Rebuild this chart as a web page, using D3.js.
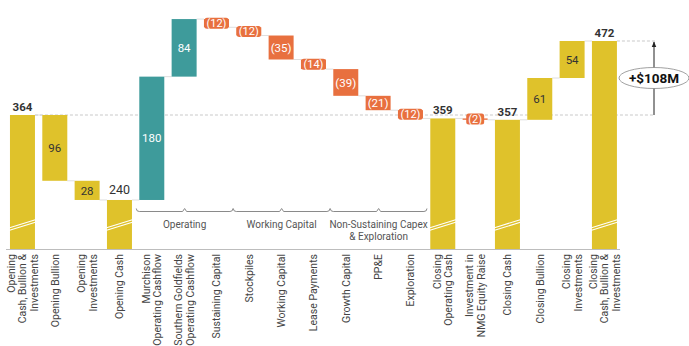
<!DOCTYPE html>
<html>
<head>
<meta charset="utf-8">
<script src="https://cdn.jsdelivr.net/npm/d3@7"></script>
<style>
  body { margin: 0; background: #fff; }
  svg text { font-family: Roboto, "Liberation Sans", sans-serif; }
</style>
</head>
<body>
<div class="waterfall"></div>
<script>
const categories = [
  ["Opening", "Cash, Bullion &", "Investments"],
  ["Opening Bullion"],
  ["Opening", "Investments"],
  ["Opening Cash"],
  ["Murchison", "Operating Cashflow"],
  ["Southern Goldfields", "Operating Cashflow"],
  ["Sustaining Capital"],
  ["Stockpiles"],
  ["Working Capital"],
  ["Lease Payments"],
  ["Growth Capital"],
  ["PP&E"],
  ["Exploration"],
  ["Closing", "Operating Cash"],
  ["Investment in", "NMG Equity Raise"],
  ["Closing Cash"],
  ["Closing Bullion"],
  ["Closing", "Investments"],
  ["Closing", "Cash, Bullion &", "Investments"]
];
const values = [364, -96, -28, 240, 180, 84, -12, -12, -35, -14, -39, -21, -12, 359, -2, 357, 61, 54, 472];
const kinds = ["total", "sub", "sub", "total", "pos", "pos", "neg", "neg", "neg", "neg", "neg", "neg", "neg",
               "total", "neg", "total", "sub", "sub", "total"];
const groups = [
  { label: ["Operating"], from: 4, to: 6 },
  { label: ["Working Capital"], from: 7, to: 9 },
  { label: ["Non-Sustaining Capex", "& Exploration"], from: 10, to: 12 }
];
const axisBase = 167;   // broken axis starts here
const changeLabel = "+$108M";

const width = 689, height = 346;
const colors = { total: "#DFC22B", sub: "#DFC22B", pos: "#3E9B9B", neg: "#E8703F" };

// running totals
let running = 0;
const bars = values.map((v, i) => {
  let y0, y1;
  if (kinds[i] === "total") { y0 = axisBase; y1 = v; running = v; }
  else { y0 = running; y1 = running + v; running = y1; }
  return { i, v, kind: kinds[i], lo: Math.min(y0, y1), hi: Math.max(y0, y1), end: running };
});

const svg = d3.select(".waterfall").append("svg")
  .attr("width", width).attr("height", height);

const x = d3.scaleBand()
  .domain(d3.range(values.length))
  .range([6.3, 620.6])
  .paddingInner(0.227)
  .paddingOuter(0.1135);
const bw = x.bandwidth();

const y = d3.scaleLinear().domain([axisBase, 472]).range([250, 41]);

// dashed reference lines
const refX = 655;
svg.append("line")
  .attr("x1", x(0) + bw).attr("x2", refX)
  .attr("y1", y(values[0])).attr("y2", y(values[0]))
  .attr("stroke", "#bbb").attr("stroke-width", 0.8).attr("stroke-dasharray", "3,2");
svg.append("line")
  .attr("x1", x(18) + bw).attr("x2", refX)
  .attr("y1", y(values[18])).attr("y2", y(values[18]))
  .attr("stroke", "#bbb").attr("stroke-width", 0.8).attr("stroke-dasharray", "3,2");

// connectors
svg.selectAll(".conn")
  .data(bars.slice(0, -1))
  .enter().append("line")
  .attr("class", "conn")
  .attr("x1", d => x(d.i) + bw)
  .attr("x2", d => x(d.i + 1))
  .attr("y1", d => y(d.end)).attr("y2", d => y(d.end))
  .attr("stroke", "#d6d6d6").attr("stroke-width", 0.8);

// bars
svg.selectAll(".bar")
  .data(bars)
  .enter().append("rect")
  .attr("class", "bar")
  .attr("x", d => x(d.i))
  .attr("width", bw)
  .attr("y", d => y(d.hi))
  .attr("height", d => Math.max(1.2, y(d.lo) - y(d.hi)))
  .attr("fill", d => colors[d.kind]);

// axis line
svg.append("line")
  .attr("x1", 6).attr("x2", 620)
  .attr("y1", 249.5).attr("y2", 249.5)
  .attr("stroke", "#bdbdbd").attr("stroke-width", 1);

// break marks on total bars
const breaks = bars.filter(d => d.kind === "total");
breaks.forEach(d => {
  const x0 = x(d.i) - 2, x1 = x(d.i) + bw + 2, yc = 225;
  [-1.3, 1.3].forEach(off => {
    svg.append("line")
      .attr("x1", x0).attr("x2", x1)
      .attr("y1", yc + 4.5 + off).attr("y2", yc - 4.5 + off)
      .attr("stroke", "#fff").attr("stroke-width", 1.1);
  });
});

// value labels
bars.forEach(d => {
  const cx = x(d.i) + bw / 2;
  const h = y(d.lo) - y(d.hi);
  if (d.kind === "total") {
    const plain = d.i === 3;
    const t = svg.append("text")
      .attr("x", cx).attr("y", y(d.hi) - (plain ? 6 : 4))
      .attr("text-anchor", "middle")
      .attr("font-size", plain ? 12.5 : 11.5)
      .attr("font-weight", plain ? 400 : 700)
      .attr("fill", "#333")
      .text(d.v);
    if (plain) {
      const bb = t.node().getBBox();
      svg.insert("rect", () => t.node())
        .attr("x", bb.x - 3).attr("y", bb.y)
        .attr("width", bb.width + 6).attr("height", bb.height)
        .attr("fill", "#fff");
    }
    return;
  }
  const txt = d.kind === "neg" ? `(${-d.v})` : Math.abs(d.v);
  const cy = (y(d.lo) + y(d.hi)) / 2;
  if (d.kind === "neg" && h < 14) {
    const bg = svg.append("rect").attr("fill", colors.neg).attr("rx", 2.5);
    const t = svg.append("text")
      .attr("x", cx).attr("y", cy).attr("dy", "0.36em")
      .attr("text-anchor", "middle")
      .attr("font-size", 11).attr("fill", "#fff")
      .text(txt);
    const bb = t.node().getBBox();
    bg.attr("x", bb.x - 2).attr("y", cy - 5.5)
      .attr("width", bb.width + 4).attr("height", 11);
    return;
  }
  svg.append("text")
    .attr("x", cx).attr("y", cy).attr("dy", "0.36em")
    .attr("text-anchor", "middle")
    .attr("font-size", 11.5)
    .attr("fill", d.kind === "sub" ? "#333" : "#fff")
    .text(txt);
});

// group brackets
const bracketY = 211.5;
groups.forEach(g => {
  const gx0 = x(g.from) - 3, gx1 = x(g.to) + bw + 4, mid = (gx0 + gx1) / 2;
  svg.append("path")
    .attr("d", `M${gx0},${bracketY - 3} Q${gx0},${bracketY} ${gx0 + 3},${bracketY} L${mid - 2},${bracketY} L${mid},${bracketY - 3} L${mid + 2},${bracketY} L${gx1 - 3},${bracketY} Q${gx1},${bracketY} ${gx1},${bracketY - 3}`)
    .attr("fill", "none").attr("stroke", "#8a8a8a").attr("stroke-width", 1);
  g.label.forEach((line, k) => {
    svg.append("text")
      .attr("x", mid).attr("y", 228 + k * 12)
      .attr("text-anchor", "middle")
      .attr("font-size", 10).attr("fill", "#555")
      .text(line);
  });
});

// category labels (rotated)
categories.forEach((lines, i) => {
  const cx = x(i) + bw / 2;
  const n = lines.length;
  lines.forEach((line, k) => {
    const lx = cx + (k - (n - 1) / 2) * 11.3;
    svg.append("text")
      .attr("transform", `translate(${lx + 3.8},254) rotate(-90)`)
      .attr("text-anchor", "end")
      .attr("font-size", 10.5).attr("fill", "#444")
      .text(line);
  });
});

// change arrow + ellipse
svg.append("defs").append("marker")
  .attr("id", "arr").attr("viewBox", "0 0 10 10")
  .attr("refX", 9).attr("refY", 5)
  .attr("markerWidth", 6).attr("markerHeight", 6)
  .attr("orient", "auto")
  .append("path").attr("d", "M0,1 L10,5 L0,9 Z").attr("fill", "#222");
svg.append("line")
  .attr("x1", refX - 1).attr("x2", refX - 1)
  .attr("y1", y(values[0])).attr("y2", y(values[18]) + 1)
  .attr("stroke", "#222").attr("stroke-width", 1)
  .attr("marker-end", "url(#arr)");
const ecy = (y(values[0]) + y(values[18])) / 2;
svg.append("ellipse")
  .attr("cx", refX - 1).attr("cy", ecy)
  .attr("rx", 35).attr("ry", 10.5)
  .attr("fill", "#fff").attr("stroke", "#888").attr("stroke-width", 0.8);
svg.append("text")
  .attr("x", refX - 1).attr("y", ecy).attr("dy", "0.36em")
  .attr("text-anchor", "middle")
  .attr("font-size", 13.5).attr("font-weight", 700).attr("fill", "#111")
  .text(changeLabel);
</script>
</body>
</html>
